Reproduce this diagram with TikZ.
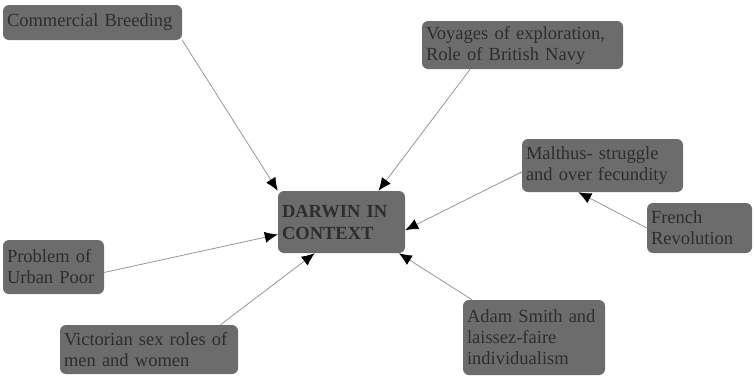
\documentclass[tikz,border=0pt]{standalone}
\usepackage{fontspec}
\setmainfont{Liberation Serif}
\usetikzlibrary{arrows.meta,calc}
\definecolor{boxgray}{RGB}{108,108,108}
\definecolor{textgray}{RGB}{45,45,45}
\definecolor{linegray}{RGB}{150,150,150}
\begin{document}
\begin{tikzpicture}[x=1pt,y=-1pt,
  box/.style={fill=boxgray, rounded corners=6pt, text=textgray, inner xsep=4pt, inner ysep=0pt,
    align=left, font=\fontsize{18.5}{21}\selectfont},
  conn/.style={draw=linegray, line width=0.8pt, -{Latex[length=13pt,width=11pt,black]}}]
\useasboundingbox (0,0) rectangle (754,376);
\node[box, text width=171pt, minimum height=35pt] (cb) at (92.5,22.5) {\mbox{Commercial Breeding}};
\node[box, text width=193pt, minimum height=48pt] (voy) at (522.5,45) {\mbox{Voyages of exploration,}\\\mbox{Role of British Navy}};
\node[box, text width=119pt, minimum height=62pt, font=\fontsize{18.5}{22}\selectfont\bfseries] (dar) at (341.5,222) {\mbox{DARWIN IN}\\\mbox{CONTEXT}};
\node[box, text width=153pt, minimum height=53pt] (mal) at (602.5,165.5) {\mbox{Malthus- struggle}\\\mbox{and over fecundity}};
\node[box, text width=97pt, minimum height=50pt] (fr) at (699.5,228) {\mbox{French}\\\mbox{Revolution}};
\node[box, text width=93pt, minimum height=54pt] (pup) at (53.5,267) {\mbox{Problem of}\\\mbox{Urban Poor}};
\node[box, text width=170pt, minimum height=49pt] (vic) at (149,349.5) {\mbox{Victorian sex roles of}\\\mbox{men and women}};
\node[box, text width=134pt, minimum height=75pt] (as) at (534,337.5) {\mbox{Adam Smith and}\\\mbox{laissez-faire}\\\mbox{individualism}};
\draw[conn] (cb.south east) -- (dar.north west);
\draw[conn] ($(voy.south west)!0.24!(voy.south east)$) -- ($(dar.north west)!0.79!(dar.north east)$);
\draw[conn] ($(mal.south west)!0.38!(mal.north west)$) -- ($(dar.north east)!0.63!(dar.south east)$);
\draw[conn] (fr.west) -- ($(mal.south west)!0.35!(mal.south east)$);
\draw[conn] ($(pup.north east)!0.6!(pup.south east)$) -- ($(dar.north west)!0.7!(dar.south west)$);
\draw[conn] ($(vic.north west)!0.9!(vic.north east)$) -- ($(dar.south west)!0.29!(dar.south east)$);
\draw[conn] ($(as.north west)!0.065!(as.north east)$) -- ($(dar.south west)!0.95!(dar.south east)$);
\end{tikzpicture}
\end{document}
